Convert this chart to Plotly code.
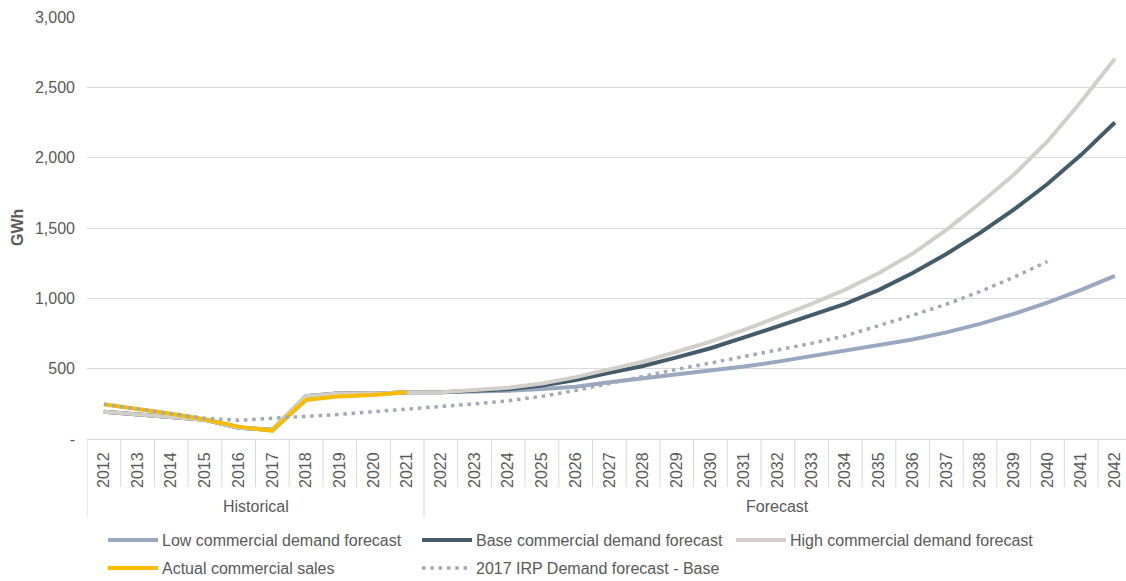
import plotly.graph_objects as go

# ---- data -------------------------------------------------------------
years = [str(y) for y in range(2012, 2043)]
hist_years = years[:10]          # 2012-2021
fc_years = years[10:]            # 2022-2042
irp_years = years[:29]           # 2012-2040

# shared history of the three commercial demand scenarios (GWh)
scenario_history = [194, 176, 160, 137, 80, 65, 305, 325, 322, 332]

low_forecast = [332, 336, 343, 355, 372, 403, 430, 455, 483, 515, 550, 588,
                628, 665, 708, 758, 818, 889, 969, 1060, 1159]
base_forecast = [332, 340, 354, 380, 420, 470, 519, 580, 645, 722, 800, 875,
                 960, 1060, 1180, 1315, 1465, 1630, 1813, 2020, 2250]
high_forecast = [332, 345, 364, 395, 440, 495, 550, 620, 692, 775, 865, 960,
                 1062, 1180, 1318, 1487, 1676, 1878, 2115, 2399, 2703]

actual_sales = [247, 215, 180, 140, 88, 58, 277, 303, 313, 332]

irp_2017_base = [247, 213, 180, 147, 133, 145, 159, 175, 194, 211, 230, 250,
                 272, 303, 345, 396, 443, 495, 540, 585, 630, 680, 733, 804,
                 880, 958, 1048, 1150, 1262]

y_ticks = [0, 500, 1000, 1500, 2000, 2500, 3000]
y_tick_text = ["-", "500", "1,000", "1,500", "2,000", "2,500", "3,000"]

groups = ["Historical", "Forecast"]
group_sizes = [len(hist_years), len(fc_years)]

names = ["Low commercial demand forecast", "Base commercial demand forecast",
         "High commercial demand forecast", "Actual commercial sales",
         "2017 IRP Demand forecast - Base"]
colors = ["#9aa8bf", "#445b6a", "#d1cfc8", "#f6bd00", "#a2a8b8"]

# ---- layout constants ---------------------------------------------------
W, H = 1126, 581
ML, MR, MT, MB = 87, 0, 17, 142
PLOT_W = W - ML - MR
PLOT_H = H - MT - MB
CAT_PX = 33.7
FONT = "Liberation Sans, Arial, sans-serif"
TXT = "#595959"
GRID = "#d9d9d9"
DOTS = "3.5px,4.8px"


def pxy(p):
    """pixel row -> paper y"""
    return (H - MB - p) / PLOT_H


def pxx(p):
    """pixel column -> paper x"""
    return (p - ML) / PLOT_W


fig = go.Figure()

scenarios = [low_forecast, base_forecast, high_forecast]
for i, fc in enumerate(scenarios):
    fig.add_trace(go.Scatter(
        x=hist_years + fc_years, y=scenario_history + fc, mode="lines",
        name=names[i], line=dict(color=colors[i], width=4),
        showlegend=False))

fig.add_trace(go.Scatter(
    x=hist_years, y=actual_sales, mode="lines", name=names[3],
    line=dict(color=colors[3], width=4), showlegend=False))

fig.add_trace(go.Scatter(
    x=irp_years, y=irp_2017_base, mode="lines", name=names[4],
    line=dict(color=colors[4], width=3.5, dash=DOTS), showlegend=False))

shapes = []
annotations = []

# category cell separators below the axis
n = len(years)
group_edges = [-0.5]
for s in group_sizes:
    group_edges.append(group_edges[-1] + s)
for k in range(n + 1):
    xb = k - 0.5
    is_group_edge = any(abs(xb - g) < 1e-9 for g in group_edges)
    shapes.append(dict(type="line", xref="x", yref="paper",
                       x0=xb, x1=xb, y0=pxy(439), y1=pxy(517 if is_group_edge else 487),
                       line=dict(color=GRID, width=1), layer="above"))

# group labels
for gi, g in enumerate(groups):
    xc = (group_edges[gi] + group_edges[gi + 1]) / 2
    annotations.append(dict(text=g, x=xc, xref="x", y=pxy(506), yref="paper",
                            showarrow=False, xanchor="center", yanchor="middle",
                            font=dict(family=FONT, size=16, color=TXT)))

# y-axis title
annotations.append(dict(text="<b>GWh</b>", x=pxx(17), xref="paper", y=pxy(228),
                        yref="paper", showarrow=False, textangle=-90,
                        xanchor="center", yanchor="middle",
                        font=dict(family=FONT, size=16, color=TXT)))

# legend
legend_pos = [(108, 540), (422, 540), (736, 540), (108, 568), (422, 568)]
for i, (lx, ly) in enumerate(legend_pos):
    dotted = i == 4
    shapes.append(dict(type="line", xref="paper", yref="paper",
                       x0=pxx(lx), x1=pxx(lx + 50), y0=pxy(ly), y1=pxy(ly),
                       line=dict(color=colors[i], width=3.5 if dotted else 4,
                                 dash=DOTS if dotted else "solid")))
    annotations.append(dict(text=names[i], x=pxx(lx + 52), xref="paper",
                            y=pxy(ly), yref="paper", showarrow=False,
                            xanchor="left", yanchor="middle",
                            font=dict(family=FONT, size=16, color=TXT)))

fig.update_layout(
    width=W, height=H,
    margin=dict(l=ML, r=MR, t=MT, b=MB, pad=0),
    paper_bgcolor="white", plot_bgcolor="white",
    font=dict(family=FONT, size=16, color=TXT),
    shapes=shapes, annotations=annotations, showlegend=False,
    xaxis=dict(type="category", categoryorder="array", categoryarray=years,
               range=[-0.5, -0.5 + PLOT_W / CAT_PX], tickangle=-90,
               showgrid=False, showline=True, linecolor=GRID, linewidth=1,
               ticks="", ticklabelstandoff=6, automargin=False,
               tickfont=dict(family=FONT, size=16, color=TXT)),
    yaxis=dict(range=[0, 3000], tickvals=y_ticks, ticktext=y_tick_text,
               showgrid=True, gridcolor=GRID, gridwidth=1, zeroline=False,
               showline=False, ticks="", ticklabelstandoff=11,
               automargin=False,
               tickfont=dict(family=FONT, size=16, color=TXT)),
)

fig.write_html("out.html")
